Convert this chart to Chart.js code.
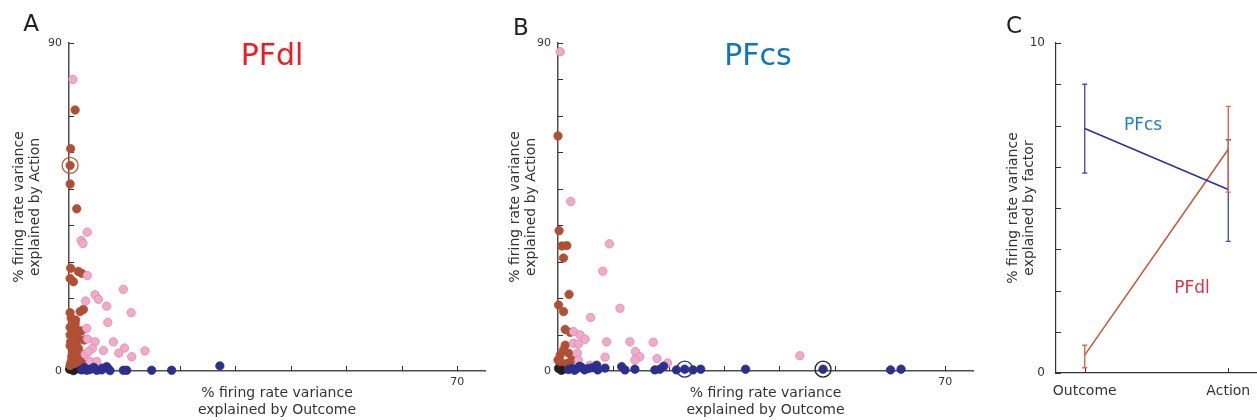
<!DOCTYPE html>
<html>
<head>
<meta charset="utf-8">
<script src="https://cdn.jsdelivr.net/npm/chart.js@4"></script>
<style>
  body { margin: 0; background: #fff; font-family: 'DejaVu Sans', sans-serif; }
  #wrap { position: relative; width: 1257px; height: 420px; overflow: hidden; }
  canvas { position: absolute; top: 0; }
  .lbl { position: absolute; white-space: nowrap; transform: translate(-50%, -50%); line-height: 1; }
</style>
</head>
<body>
<div id="wrap">
  <canvas id="chartA" width="495" height="420" style="left:0"></canvas>
  <canvas id="chartB" width="495" height="420" style="left:495px"></canvas>
  <canvas id="chartC" width="267" height="420" style="left:990px"></canvas>
  <div class="lbl" style="left:31px;top:23px;font-size:23px;color:#222">A</div>
  <div class="lbl" style="left:521px;top:27px;font-size:23px;color:#222">B</div>
  <div class="lbl" style="left:1014px;top:25px;font-size:23px;color:#222">C</div>
  <div class="lbl" style="left:272px;top:55px;font-size:30px;color:#ec1c24">PFdl</div>
  <div class="lbl" style="left:758px;top:55px;font-size:30px;color:#0f75bc">PFcs</div>
  <div class="lbl" style="left:1143px;top:124px;font-size:17px;color:#1c7fc2">PFcs</div>
  <div class="lbl" style="left:1192px;top:287px;font-size:17px;color:#d4374e">PFdl</div>
</div>
<script>
Chart.defaults.font.family = "'DejaVu Sans', sans-serif";

// panel A - PFdl neurons (% variance explained by Outcome, by Action)
const dlActX = [1.1, 0.3, 0.2, 0.2, 1.4, 0.3, 1.7, 2.3, 0.2, 0.8, 2.6, 2.0, 0.2, 0.4, 1.1, 0.2, 0.8, 1.6, 0.2, 0.2, 1.1, 0.5, 1.7, 0.4, 1.1, 0.3, 1.3, 0.6, 1.9, 0.2, 1.5, 2.4, 2.7, 2.2, 1.2, 2.5];
const dlActY = [71.6, 61.0, 56.4, 51.3, 44.5, 28.2, 27.3, 26.8, 25.4, 24.5, 16.9, 16.3, 16.0, 14.5, 12.9, 12.0, 10.3, 9.0, 9.9, 6.9, 5.3, 3.9, 6.2, 2.6, 2.1, 8.0, 7.5, 4.8, 3.2, 1.5, 11.2, 4.5, 8.5, 11.0, 14.0, 2.0];
const dlBothX = [0.7, 3.3, 2.2, 2.5, 3.3, 9.8, 4.7, 5.3, 3.0, 6.8, 11.2, 7.0, 3.2, 3.3, 4.7, 4.2, 8.0, 10.0, 13.7, 6.2, 9.0, 11.3, 2.9, 3.5, 3.8, 5.0];
const dlBothY = [80.0, 38.1, 35.8, 35.0, 26.2, 22.4, 20.9, 19.7, 19.2, 17.8, 16.0, 13.3, 11.7, 8.8, 8.0, 6.2, 8.0, 6.3, 5.5, 5.6, 4.9, 3.9, 4.6, 5.3, 2.6, 2.6];
const dlOutX = [2.3, 2.8, 3.2, 3.7, 4.1, 4.5, 5.0, 5.9, 6.0, 6.8, 7.1, 7.4, 9.8, 10.4, 14.9, 18.5, 27.2];
const dlOutY = [0.3, 0.9, 0.2, 0.4, 0.6, 1.0, 0.2, 0.3, 0.8, 1.2, 0.6, 0.1, 0.2, 0.2, 0.2, 0.2, 1.4];
const dlNoneX = [0.1, 0.5, 1.0, 1.5, 2.0, 2.6, 0.3, 1.2, 0.8];
const dlNoneY = [0.5, 0.9, 0.3, 1.0, 0.5, 1.3, 1.8, 1.6, 0.1];
const dlRingX = [0.2];
const dlRingY = [56.4];

// panel B - PFcs neurons
const csActX = [0, 0.2, 0.7, 1.6, 1.0, 2.0, 0.1, 1.0, 1.3, 2.2, 1.3, 1.0, 0.4, 1.9, 0, 2.5, 0.4, 1.6];
const csActY = [64.5, 38.5, 34.3, 34.4, 31.0, 21.0, 18.1, 16.3, 11.4, 10.6, 7.1, 5.8, 4.4, 4.9, 3.0, 3.0, 2.6, 2.1];
const csBothX = [0.4, 2.3, 9.3, 8.1, 11.2, 5.9, 2.8, 4.0, 4.9, 8.8, 13.0, 17.2, 2.8, 3.7, 14.0, 3.5, 3.7, 8.5, 14.8, 13.9, 17.9, 19.8, 5.8, 43.7];
const csBothY = [87.6, 46.5, 34.9, 27.4, 17.2, 14.7, 10.8, 9.9, 8.7, 8.0, 8.0, 7.9, 7.6, 7.4, 5.3, 4.9, 3.0, 3.8, 3.9, 3.0, 3.4, 2.2, 1.6, 4.2];
const csOutX = [1.9, 2.5, 3.0, 3.4, 3.9, 4.3, 4.8, 5.5, 6.2, 7.0, 7.2, 8.5, 11.5, 12.1, 13.9, 17.5, 18.4, 19.1, 21.4, 22.9, 24.4, 25.8, 33.9, 47.9, 60.1, 62.0];
const csOutY = [0.4, 0.7, 0.2, 0.7, 1.3, 1.0, 0.3, 0.7, 0.9, 1.6, 0.3, 0.8, 1.2, 0.3, 0.5, 0.3, 0.5, 1.3, 0.3, 0.5, 0.3, 0.5, 0.5, 0.5, 0.3, 0.5];
const csNoneX = [0.1, 1.0, 0.4, 0.6];
const csNoneY = [0.7, 0.5, 1.5, 0.2];
const csRingX = [22.9];
const csRingY = [0.5];
const csRing2X = [47.9];
const csRing2Y = [0.5];

// axis ticks for the scatter panels
const outcomeTicks = [0, 10, 20, 30, 40, 50, 60, 70];
const outcomeTickText = ['', '', '', '', '', '', '', '70'];
const actionTicks = [0, 10, 20, 30, 40, 50, 60, 70, 80, 90];
const actionTickText = ['0', '', '', '', '', '', '', '', '', '90'];

// panel C - mean % variance per factor
const factors = ['Outcome', 'Action'];
const csMean = [7.41, 5.56];
const csLow = [6.06, 3.99];
const csHigh = [8.75, 7.07];
const dlMean = [0.54, 6.78];
const dlLow = [0.16, 5.48];
const dlHigh = [0.84, 8.08];
const factorTicks = [0, 1.25, 2.5, 3.75, 5, 6.25, 7.5, 8.75, 10];
const factorTickText = ['0', '', '', '', '', '', '', '', '10'];

const PINK = '#f3a9c9', PINK_EDGE = '#d88aae';
const BROWN = '#b04f34';
const BLUE = '#2b2f8e';
const BLACK = '#231f20';

function pts(xs, ys) {
  return xs.map((x, i) => ({ x, y: ys[i] }));
}

function dotSet(label, xs, ys, fill, edge) {
  return {
    label, data: pts(xs, ys), backgroundColor: fill, borderColor: edge,
    borderWidth: 0.8, pointRadius: 4.2, pointHoverRadius: 4.2, clip: false
  };
}

function ringSet(label, xs, ys, edge) {
  return {
    label, data: pts(xs, ys), backgroundColor: 'rgba(0,0,0,0)', borderColor: edge,
    borderWidth: 1.3, pointRadius: 8, pointHoverRadius: 8, clip: false
  };
}

// short tick marks pointing into the plot, drawn under the dots
const innerTicks = {
  id: 'innerTicks',
  beforeDatasetsDraw(chart, args, opts) {
    const { ctx, chartArea } = chart;
    const { x, y } = chart.scales;
    ctx.save();
    ctx.strokeStyle = opts.color || '#333';
    ctx.lineWidth = 1;
    ctx.beginPath();
    x.ticks.forEach(t => {
      const px = Math.round(x.getPixelForValue(t.value)) + 0.5;
      ctx.moveTo(px, chartArea.bottom);
      ctx.lineTo(px, chartArea.bottom - (opts.len || 5));
    });
    y.ticks.forEach(t => {
      const py = Math.round(y.getPixelForValue(t.value)) + 0.5;
      ctx.moveTo(chartArea.left, py);
      ctx.lineTo(chartArea.left + (opts.len || 5), py);
    });
    ctx.stroke();
    ctx.restore();
  }
};

// vertical error bars with small caps
const errorBars = {
  id: 'errorBars',
  afterDatasetsDraw(chart) {
    const { ctx } = chart;
    const { x, y } = chart.scales;
    chart.data.datasets.forEach(ds => {
      if (!ds.errLow) return;
      ctx.save();
      ctx.strokeStyle = ds.errColor;
      ctx.lineWidth = 1.4;
      ctx.beginPath();
      ds.data.forEach((p, i) => {
        const px = x.getPixelForValue(p.x);
        const top = y.getPixelForValue(ds.errHigh[i]);
        const bot = y.getPixelForValue(ds.errLow[i]);
        ctx.moveTo(px, top); ctx.lineTo(px, bot);
        ctx.moveTo(px - 2.5, top); ctx.lineTo(px + 2.5, top);
        ctx.moveTo(px - 2.5, bot); ctx.lineTo(px + 2.5, bot);
      });
      ctx.stroke();
      ctx.restore();
    });
  }
};

function scatterPanel(id, datasets, yWidth, rightPad, titlePad) {
  return new Chart(document.getElementById(id), {
    type: 'scatter',
    data: { datasets },
    plugins: [innerTicks],
    options: {
      responsive: false,
      animation: false,
      layout: { padding: { top: 43, right: rightPad, left: 0, bottom: 0 } },
      plugins: {
        legend: { display: false },
        tooltip: { enabled: false },
        innerTicks: { len: 5, color: '#333' }
      },
      scales: {
        x: {
          type: 'linear', min: 0, max: 75,
          afterBuildTicks: s => { s.ticks = outcomeTicks.map(value => ({ value })); },
          afterFit: s => { s.height = 49; },
          grid: { display: false, drawTicks: false },
          border: { color: '#4d4d4d', width: 1.5 },
          ticks: { callback: (v, i) => outcomeTickText[i], autoSkip: false, maxRotation: 0, padding: 5, color: '#333', font: { size: 11 } },
          title: { display: true, text: ['% firing rate variance', 'explained by Outcome'], color: '#333', font: { size: 14, lineHeight: 1.15 }, padding: { top: 0, bottom: 2 } }
        },
        y: {
          type: 'linear', min: 0, max: 90,
          afterBuildTicks: s => { s.ticks = actionTicks.map(value => ({ value })); },
          afterFit: s => { s.width = yWidth; },
          grid: { display: false, drawTicks: false },
          border: { color: '#4d4d4d', width: 1.5 },
          ticks: { callback: (v, i) => actionTickText[i], autoSkip: false, padding: 7, color: '#333', font: { size: 11 } },
          title: { display: true, text: ['% firing rate variance', 'explained by Action'], color: '#333', font: { size: 14, lineHeight: 1.15 }, padding: { top: titlePad, bottom: 0 } }
        }
      }
    }
  });
}

scatterPanel('chartA', [
  ringSet('selected', dlRingX, dlRingY, '#c0583a'),
  dotSet('Outcome', dlOutX, dlOutY, BLUE, BLUE),
  dotSet('Both', dlBothX, dlBothY, PINK, PINK_EDGE),
  dotSet('Action', dlActX, dlActY, BROWN, BROWN),
  dotSet('None', dlNoneX, dlNoneY, BLACK, BLACK)
], 69, 10, 11);

scatterPanel('chartB', [
  ringSet('selected', csRingX, csRingY, '#2b2f8e'),
  ringSet('selected 2', csRing2X, csRing2Y, '#222'),
  dotSet('Outcome', csOutX, csOutY, BLUE, BLUE),
  dotSet('Both', csBothX, csBothY, PINK, PINK_EDGE),
  dotSet('Action', csActX, csActY, BROWN, BROWN),
  dotSet('None', csNoneX, csNoneY, BLACK, BLACK)
], 63, 17, 12);

const factorX = factors.map((f, i) => i);

new Chart(document.getElementById('chartC'), {
  type: 'line',
  data: {
    datasets: [
      {
        label: 'PFcs', data: pts(factorX, csMean), borderColor: '#2e3192', borderWidth: 1.5,
        pointRadius: 0, errLow: csLow, errHigh: csHigh, errColor: 'rgba(46,49,160,0.85)'
      },
      {
        label: 'PFdl', data: pts(factorX, dlMean), borderColor: '#c4553a', borderWidth: 1.5,
        pointRadius: 0, errLow: dlLow, errHigh: dlHigh, errColor: '#d9694c'
      }
    ]
  },
  plugins: [innerTicks, errorBars],
  options: {
    responsive: false,
    animation: false,
    layout: { padding: { top: 43, right: 0, left: 0, bottom: 0 } },
    plugins: {
      legend: { display: false },
      tooltip: { enabled: false },
      innerTicks: { len: 5, color: '#333' }
    },
    scales: {
      x: {
        type: 'linear', min: -0.2, max: 1.2,
        afterBuildTicks: s => { s.ticks = factorX.map(value => ({ value })); },
        // keep the plot running to the right edge; the "Action" label still fits
        afterFit: s => { s.height = 47; s.paddingLeft = 0; s.paddingRight = 0; },
        grid: { display: false, drawTicks: false },
        border: { color: '#333', width: 1.2 },
        ticks: { callback: (v, i) => factors[i], autoSkip: false, maxRotation: 0, padding: 10, color: '#333', font: { size: 14 } }
      },
      y: {
        type: 'linear', min: 0, max: 10,
        afterBuildTicks: s => { s.ticks = factorTicks.map(value => ({ value })); },
        afterFit: s => { s.width = 66; },
        grid: { display: false, drawTicks: false },
        border: { color: '#333', width: 1.2 },
        ticks: { callback: (v, i) => factorTickText[i], autoSkip: false, padding: 11, color: '#333', font: { size: 12 } },
        title: { display: true, text: ['% firing rate variance', 'explained by factor'], color: '#333', font: { size: 14, lineHeight: 1.15 }, padding: { top: 15, bottom: 0 } }
      }
    }
  }
});
</script>
</body>
</html>
